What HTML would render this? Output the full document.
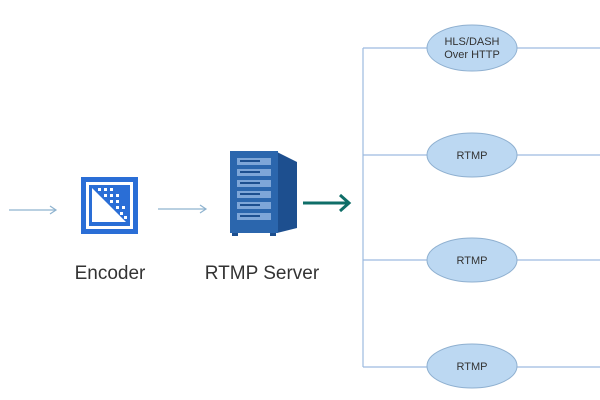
<!DOCTYPE html>
<html><head><style>body{margin:0;background:#fff}svg{display:block}</style></head><body>
<svg width="600" height="400" viewBox="0 0 600 400" xmlns="http://www.w3.org/2000/svg" font-family="Liberation Sans, sans-serif">
<rect width="600" height="400" fill="#fff"/>
<!-- small arrows -->
<g stroke="#8fb3cf" stroke-width="1.2" fill="none">
<line x1="9" y1="210" x2="56" y2="210"/><polyline points="50,206 56,210 50,214"/>
<line x1="158" y1="209" x2="206" y2="209"/><polyline points="200,205 206,209 200,213"/>
</g>
<!-- encoder -->
<rect x="81" y="177" width="57" height="57" fill="#2a6ed6"/>
<rect x="86" y="182" width="47" height="47" fill="#fff"/>
<rect x="89" y="185" width="41" height="41" fill="#2a6ed6"/>
<polygon points="92,188 92,222 126,222" fill="#fff"/>
<g fill="#fff">
<rect x="98" y="188" width="3" height="3"/><rect x="104" y="188" width="3" height="3"/><rect x="110" y="188" width="3" height="3"/>
<rect x="104" y="194" width="3" height="3"/><rect x="110" y="194" width="3" height="3"/><rect x="116" y="194" width="3" height="3"/>
<rect x="110" y="200" width="3" height="3"/><rect x="116" y="200" width="3" height="3"/>
<rect x="116" y="206" width="3" height="3"/><rect x="122" y="206" width="3" height="3"/>
<rect x="120" y="212" width="3" height="3"/><rect x="124" y="216" width="3" height="3"/>
</g>
<!-- server -->
<polygon points="277,152 297,162 297,228 277,233" fill="#1d4f8f"/>
<rect x="230" y="151" width="48" height="82" fill="#2b66ad"/>
<g fill="#7ea6d8">
<rect x="237" y="158" width="34" height="7"/><rect x="237" y="169" width="34" height="7"/>
<rect x="237" y="180" width="34" height="7"/><rect x="237" y="191" width="34" height="7"/>
<rect x="237" y="202" width="34" height="7"/><rect x="237" y="213" width="34" height="7"/>
</g>
<g fill="#1d4f8f"><rect x="240" y="160" width="20" height="2"/><rect x="240" y="171" width="20" height="2"/><rect x="240" y="182" width="20" height="2"/><rect x="240" y="193" width="20" height="2"/><rect x="240" y="204" width="20" height="2"/><rect x="240" y="215" width="20" height="2"/></g>
<rect x="232" y="233" width="6" height="3" fill="#1d4f8f"/><rect x="270" y="233" width="6" height="3" fill="#1d4f8f"/>
<!-- teal arrow -->
<line x1="303" y1="203" x2="348" y2="203" stroke="#0f6e68" stroke-width="3"/>
<polyline points="340,195 349,203 340,211" fill="none" stroke="#0f6e68" stroke-width="3"/>
<text x="110" y="279" font-size="19" fill="#333" text-anchor="middle">Encoder</text>
<text x="262" y="279" font-size="19" fill="#333" text-anchor="middle">RTMP Server</text>
<!-- tree -->
<g stroke="#9dbbe0" stroke-width="1.2" fill="none">
<line x1="363" y1="48" x2="363" y2="367"/>
<line x1="363" y1="48" x2="600" y2="48"/>
<line x1="363" y1="155" x2="600" y2="155"/>
<line x1="363" y1="260" x2="600" y2="260"/>
<line x1="363" y1="367" x2="600" y2="367"/>
</g>
<g fill="#bcd8f2" stroke="#8fb0d0" stroke-width="1">
<ellipse cx="472" cy="48" rx="45" ry="23"/>
<ellipse cx="472" cy="155" rx="45" ry="22"/>
<ellipse cx="472" cy="260" rx="45" ry="22"/>
<ellipse cx="472" cy="366" rx="45" ry="22"/>
</g>
<g font-size="11" fill="#333" text-anchor="middle">
<text x="472" y="45">HLS/DASH</text><text x="472" y="58">Over HTTP</text>
<text x="472" y="159">RTMP</text><text x="472" y="264">RTMP</text><text x="472" y="370">RTMP</text>
</g>
</svg>
</body></html>
